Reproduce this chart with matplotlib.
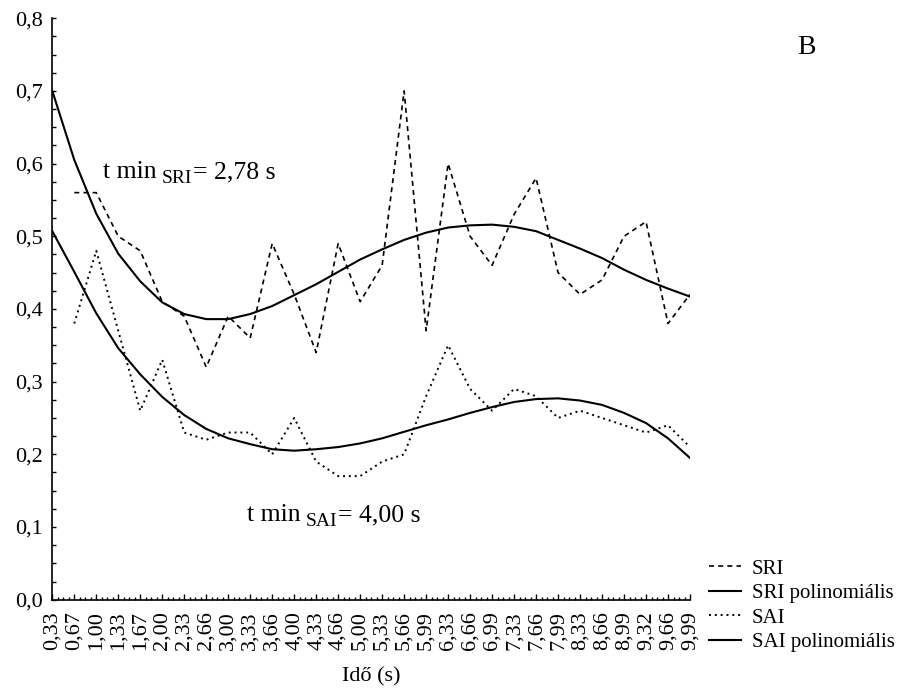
import matplotlib
matplotlib.use("Agg")
import matplotlib.pyplot as plt
import matplotlib.ticker as ticker
from matplotlib.transforms import offset_copy

plt.rcParams.update({
    "font.family": "Liberation Serif",
    "font.size": 16,
})

# time points (s)
times = ["0,33", "0,67", "1,00", "1,33", "1,67", "2,00", "2,33", "2,66", "3,00", "3,33",
         "3,66", "4,00", "4,33", "4,66", "5,00", "5,33", "5,66", "5,99", "6,33", "6,66",
         "6,99", "7,33", "7,66", "7,99", "8,33", "8,66", "8,99", "9,32", "9,66", "9,99"]

# measured values (no value at 0,33)
sri = [None, 0.56, 0.56, 0.50, 0.48, 0.41, 0.39, 0.32, 0.39, 0.36,
       0.49, 0.42, 0.34, 0.49, 0.41, 0.46, 0.70, 0.37, 0.60, 0.50,
       0.46, 0.53, 0.58, 0.45, 0.42, 0.44, 0.50, 0.52, 0.38, 0.42]
sai = [None, 0.38, 0.48, 0.37, 0.26, 0.33, 0.23, 0.22, 0.23, 0.23,
       0.20, 0.25, 0.19, 0.17, 0.17, 0.19, 0.20, 0.28, 0.35, 0.29,
       0.26, 0.29, 0.28, 0.25, 0.26, 0.25, 0.24, 0.23, 0.24, 0.21]

# polynomial trend lines
sri_poly = [0.700, 0.605, 0.531, 0.476, 0.438, 0.409, 0.393, 0.386, 0.386, 0.393,
            0.404, 0.419, 0.434, 0.451, 0.468, 0.482, 0.495, 0.505, 0.512, 0.515,
            0.516, 0.513, 0.507, 0.495, 0.483, 0.470, 0.454, 0.440, 0.428, 0.417]
sai_poly = [0.507, 0.451, 0.394, 0.346, 0.310, 0.279, 0.254, 0.235, 0.222, 0.214,
            0.207, 0.205, 0.207, 0.210, 0.215, 0.222, 0.231, 0.240, 0.248, 0.257,
            0.265, 0.272, 0.276, 0.277, 0.274, 0.268, 0.257, 0.243, 0.222, 0.195]

x = list(range(len(times)))
nan = float("nan")
sri_y = [nan if v is None else v for v in sri]
sai_y = [nan if v is None else v for v in sai]

fig = plt.figure(figsize=(9.03, 6.88), dpi=100)
ax = fig.add_axes([52.3 / 903, 1 - 599.7 / 688, (690 - 52.3) / 903, (599.7 - 18.2) / 688])

l1, = ax.plot(x, sri_y, color="black", lw=1.2, linestyle=(0, (3, 2.5)), label="SRI")
l2, = ax.plot(x, sri_poly, color="black", lw=1.5, label="SRI polinomiális")
l3, = ax.plot(x, sai_y, color="black", lw=1.4, linestyle=(0, (1, 2)), label="SAI")
l4, = ax.plot(x, sai_poly, color="black", lw=1.5, label="SAI polinomiális")

ax.set_xlim(0, len(times) - 1)
ax.set_ylim(0, 0.8)
ax.set_xticks(x)
ax.set_xticklabels(times, rotation=90)
ax.xaxis.set_minor_locator(ticker.MultipleLocator(0.25))
ax.yaxis.set_major_locator(ticker.MultipleLocator(0.1))
ax.yaxis.set_minor_locator(ticker.MultipleLocator(0.025))
ax.yaxis.set_major_formatter(ticker.FuncFormatter(lambda v, pos: f"{v:.1f}".replace(".", ",")))

ax.tick_params(axis="both", which="both", direction="in", width=1)
ax.tick_params(axis="x", which="major", length=4, pad=8.5)
ax.tick_params(axis="x", which="minor", length=2)
ax.tick_params(axis="y", which="both", length=3, pad=7)

ax.spines["top"].set_visible(False)
ax.spines["right"].set_visible(False)
ax.spines["left"].set_linewidth(1.2)
ax.spines["bottom"].set_linewidth(1.2)

ax.set_xlabel("Idő (s)", fontsize=16, labelpad=12)


def label_min(x0, y0, name, value):
    # "t min" + lowered subscript + value, each piece placed after the previous one
    renderer = fig.canvas.get_renderer()
    t1 = fig.text(x0 / 903, 1 - y0 / 688, "t min", fontsize=18.5, va="baseline")
    w1 = t1.get_window_extent(renderer).width
    tr = offset_copy(fig.transFigure, fig=fig, x=w1 + 5, y=-5, units="dots")
    t2 = fig.text(x0 / 903, 1 - y0 / 688, name, fontsize=14, va="baseline", transform=tr)
    w2 = t2.get_window_extent(renderer).width
    tr = offset_copy(fig.transFigure, fig=fig, x=w1 + 5 + w2 + 1, y=0, units="dots")
    fig.text(x0 / 903, 1 - y0 / 688, f"= {value} s", fontsize=18.5, va="baseline", transform=tr)


label_min(103, 178, "SRI", "2,78")
label_min(247, 521, "SAI", "4,00")
fig.text(797 / 903, 1 - 54 / 688, "B", fontsize=20, va="baseline")

fig.legend(handles=[l1, l2, l3, l4], loc="upper left", bbox_to_anchor=(709 / 903, 1 - 559 / 688),
           frameon=False, fontsize=15, handlelength=1.55, handletextpad=0.5, labelspacing=0.24,
           borderaxespad=0, borderpad=0)

fig.savefig("out.png", dpi=100)
